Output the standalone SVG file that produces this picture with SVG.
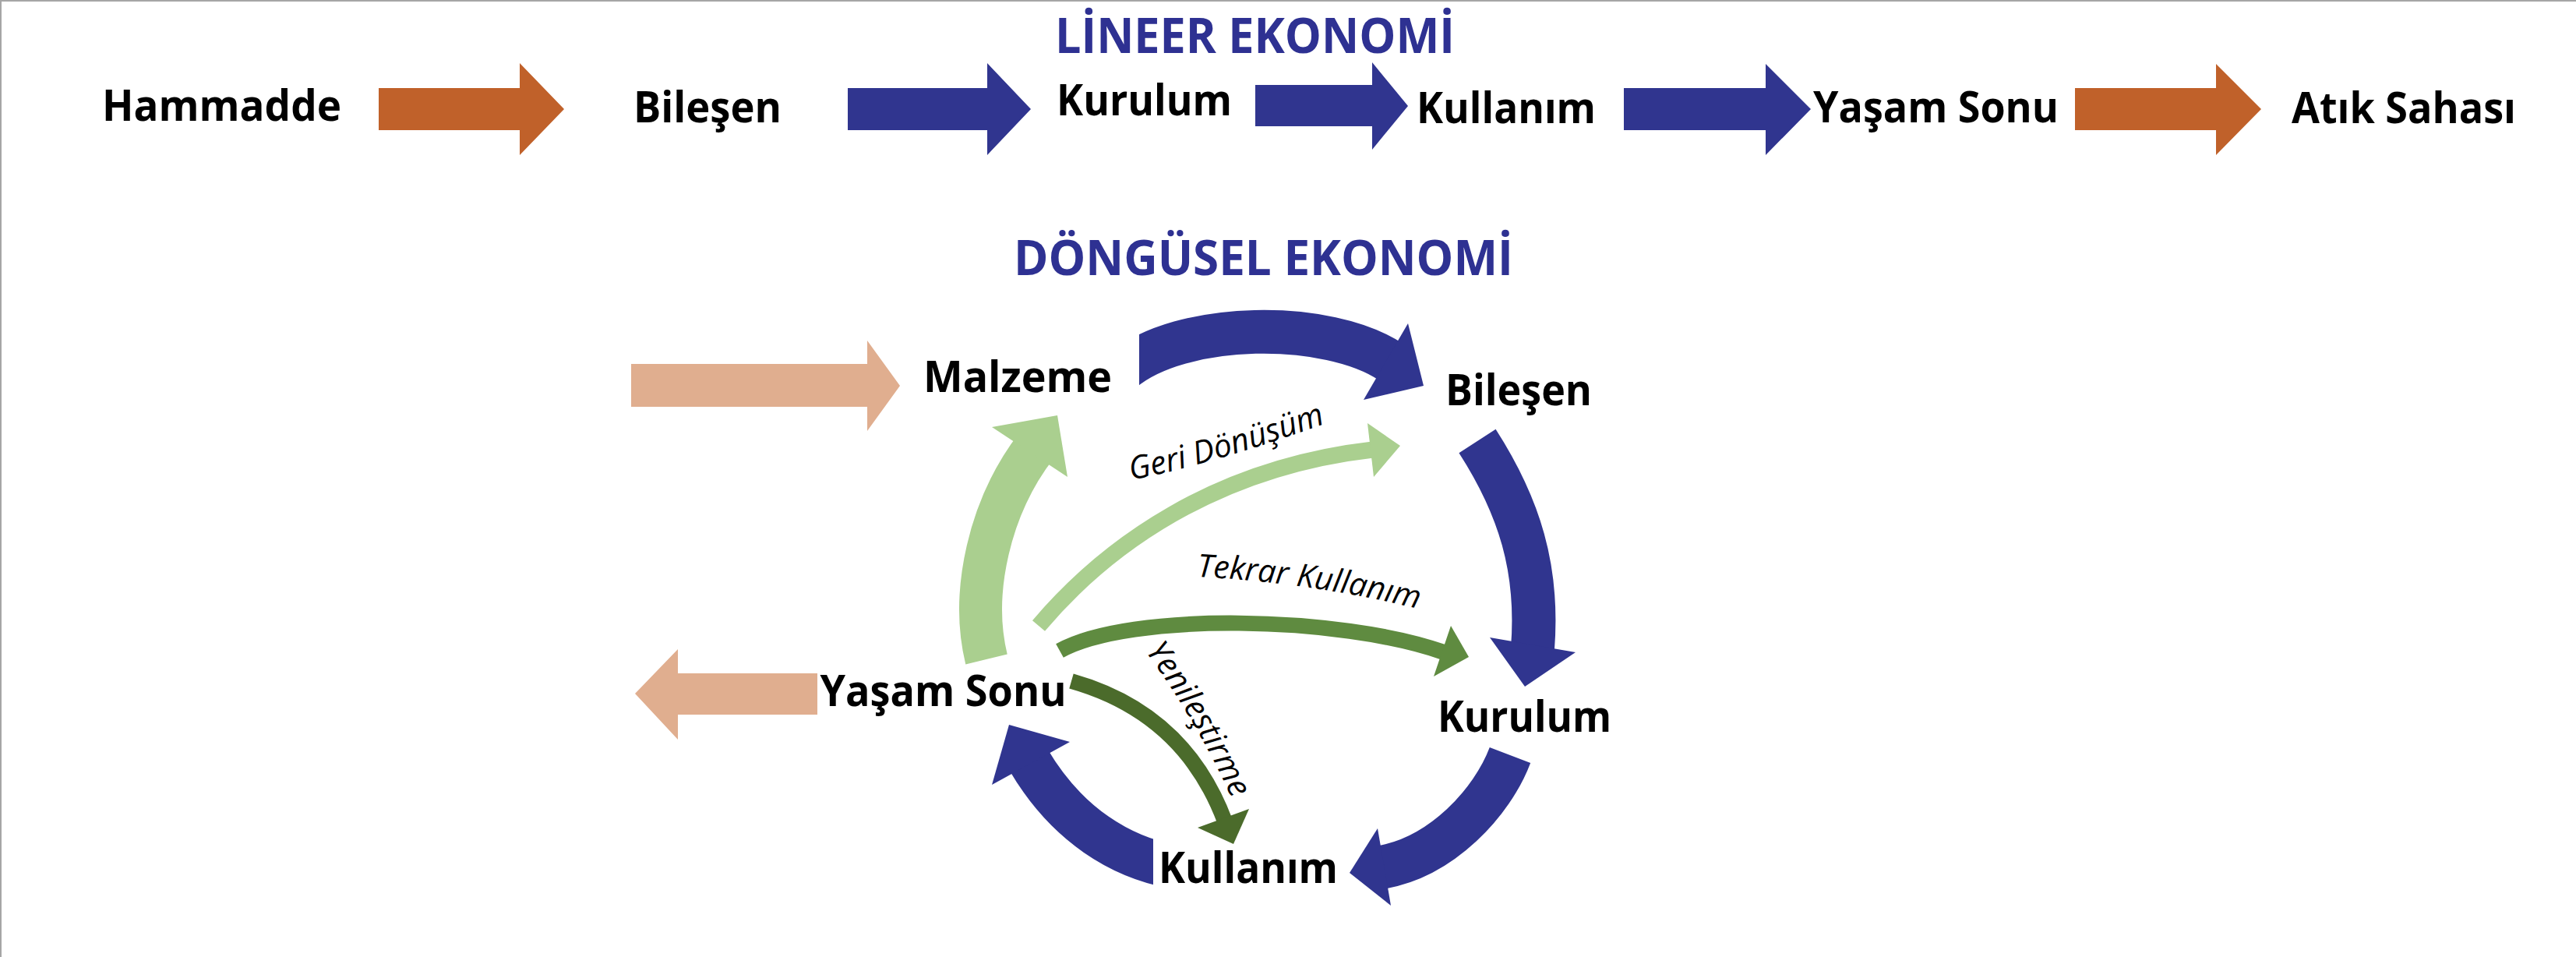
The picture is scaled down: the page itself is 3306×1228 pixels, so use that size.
<svg xmlns="http://www.w3.org/2000/svg" width="3306" height="1228" viewBox="0 0 3306 1228">
<style>
.lbl{font-family:"Open Sans","Noto Sans","DejaVu Sans",sans-serif;font-weight:700;font-size:56px;fill:#000;text-anchor:middle}
.ttl{font-family:"Open Sans","Noto Sans","DejaVu Sans",sans-serif;font-weight:700;font-size:63px;fill:#2e3192;text-anchor:middle}
.it{font-family:"Open Sans","Noto Sans","DejaVu Sans",sans-serif;font-style:italic;font-size:41px;fill:#000}
.blue{fill:#30358f}
.orange{fill:#c0612a}
.peach{fill:#e0ae8f}
.bandB{fill:none;stroke:#30358f;stroke-width:56}
.lg{fill:#aacf8f}
.mg{fill:#5f8b40}
.dg{fill:#4b6b2b}
.box{fill:#fff}
</style>
<defs>
<path id="pGeri" d="M1452,616 Q1560,595 1710,540"/>
<path id="pTekrar" d="M1536,740 Q1690,748 1832,784"/>
<path id="pYeni" d="M1470,836 Q1537,925 1588,1040"/>
</defs>
<rect x="0" y="0" width="3306" height="1228" fill="#fff"/>
<line x1="0" y1="1" x2="3306" y2="1" stroke="#a6a6a6" stroke-width="2"/>
<line x1="1" y1="0" x2="1" y2="1228" stroke="#a6a6a6" stroke-width="2"/>

<text class="ttl" x="1610.5" y="68" textLength="513" lengthAdjust="spacingAndGlyphs">LİNEER EKONOMİ</text>
<text class="ttl" x="1621.5" y="353" textLength="641" lengthAdjust="spacingAndGlyphs">DÖNGÜSEL EKONOMİ</text>

<g id="connectors">
  <polygon class="orange" points="486,113 667,113 667,81 724,140 667,199 667,167 486,167"/>
  <polygon class="blue" points="1088,113 1267,113 1267,81 1323,140 1267,199 1267,167 1088,167"/>
  <polygon class="blue" points="1611,109 1761,109 1761,80 1807,136 1761,192 1761,162 1611,162"/>
  <polygon class="blue" points="2084,113 2266,113 2266,82 2324,140 2266,199 2266,167 2084,167"/>
  <polygon class="orange" points="2663,113 2844,113 2844,82 2902,140 2844,199 2844,167 2663,167"/>

  <polygon class="peach" points="810,467 1113,467 1113,437 1155,495 1113,553 1113,522 810,522"/>
  <polygon class="peach" points="1049,864 870,864 870,833 815,890 870,949 870,917 1049,917"/>

  <path class="bandB" d="M1440,476 C1515,412 1705,410 1786,465"/>
  <polygon class="blue" points="1807,415 1827,495 1750,513"/>
  <path class="bandB" d="M1896,566 C1950,650 1975,730 1967,832"/>
  <polygon class="blue" points="1912,818 2022,837 1957,881"/>
  <path class="bandB" d="M1938,969 C1915,1030 1850,1100 1772,1113"/>
  <polygon class="blue" points="1768,1063 1732,1120 1785,1162"/>
  <path class="bandB" d="M1505,1112 C1440,1100 1370,1060 1320,975"/>
  <polygon class="blue" points="1295,930 1273,1007 1373,952"/>

  <rect class="box" x="1170" y="425" width="292" height="105"/>
  <rect class="box" x="1480" y="1068" width="245" height="95"/>

  <path d="M1266,846 C1245,760 1270,650 1330,572" fill="none" stroke="#aacf8f" stroke-width="55"/>
  <polygon class="lg" points="1273,548 1357,533 1370,612"/>
  <path d="M1333,803 C1420,700 1560,600 1762,577" fill="none" stroke="#aacf8f" stroke-width="21"/>
  <polygon class="lg" points="1755,543 1797,572 1763,612"/>
  <path d="M1360,835 C1450,785 1720,790 1853,837" fill="none" stroke="#5f8b40" stroke-width="20"/>
  <polygon class="mg" points="1862,803 1885,843 1840,868"/>
  <path d="M1375,874 Q1520,915 1572,1054" fill="none" stroke="#4b6b2b" stroke-width="20"/>
  <polygon class="dg" points="1537,1062 1583,1083 1603,1038"/>
</g>

<g id="lin-hammadde"><text class="lbl" x="284.5" y="155" textLength="307" lengthAdjust="spacingAndGlyphs">Hammadde</text></g>
<g id="lin-bilesen"><text class="lbl" x="908" y="157" textLength="190" lengthAdjust="spacingAndGlyphs">Bileşen</text></g>
<g id="lin-kurulum"><text class="lbl" x="1468.5" y="148" textLength="225" lengthAdjust="spacingAndGlyphs">Kurulum</text></g>
<g id="lin-kullanim"><text class="lbl" x="1933" y="158" textLength="230" lengthAdjust="spacingAndGlyphs">Kullanım</text></g>
<g id="lin-yasamsonu"><text class="lbl" x="2484.5" y="157" textLength="315" lengthAdjust="spacingAndGlyphs">Yaşam Sonu</text></g>
<g id="lin-atiksahasi"><text class="lbl" x="3085" y="158" textLength="288" lengthAdjust="spacingAndGlyphs">Atık Sahası</text></g>

<g id="cir-malzeme"><text class="lbl" x="1306" y="503" textLength="242" lengthAdjust="spacingAndGlyphs">Malzeme</text></g>
<g id="cir-bilesen"><text class="lbl" x="1949" y="520" textLength="188" lengthAdjust="spacingAndGlyphs">Bileşen</text></g>
<g id="cir-kurulum"><text class="lbl" x="1956.5" y="939" textLength="223" lengthAdjust="spacingAndGlyphs">Kurulum</text></g>
<g id="cir-kullanim"><text class="lbl" x="1602" y="1133" textLength="230" lengthAdjust="spacingAndGlyphs">Kullanım</text></g>
<g id="cir-yasamsonu"><text class="lbl" x="1210.5" y="906" textLength="316" lengthAdjust="spacingAndGlyphs">Yaşam Sonu</text></g>

<g id="edge-labels">
  <text class="it"><textPath href="#pGeri">Geri Dönüşüm</textPath></text>
  <text class="it"><textPath href="#pTekrar">Tekrar Kullanım</textPath></text>
  <text class="it"><textPath href="#pYeni">Yenileştirme</textPath></text>
</g>
</svg>
